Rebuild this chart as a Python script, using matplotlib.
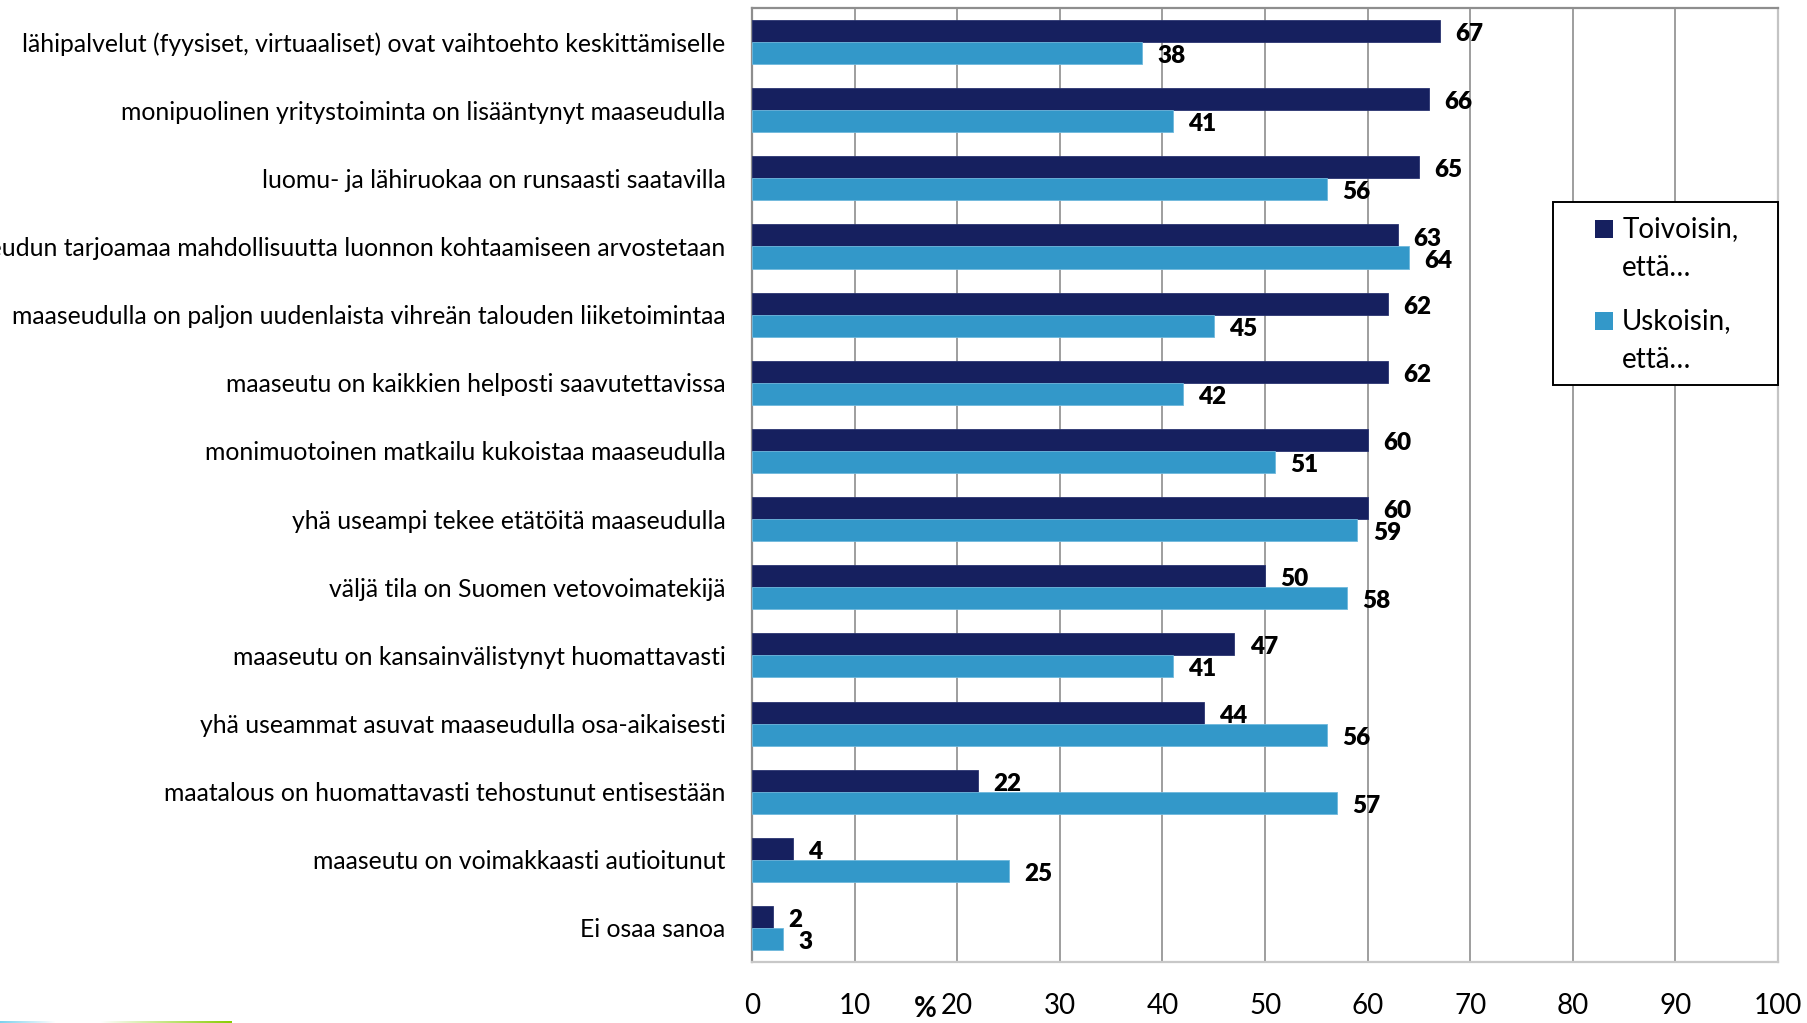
import numpy as np
import matplotlib
matplotlib.use("Agg")
import matplotlib.pyplot as plt
from matplotlib.patches import Rectangle

# Survey statements (top to bottom) and the share of respondents (%)
statements = [
    "lähipalvelut (fyysiset, virtuaaliset) ovat vaihtoehto keskittämiselle",
    "monipuolinen yritystoiminta on lisääntynyt maaseudulla",
    "luomu- ja lähiruokaa on runsaasti saatavilla",
    "maaseudun tarjoamaa mahdollisuutta luonnon kohtaamiseen arvostetaan",
    "maaseudulla on paljon uudenlaista vihreän talouden liiketoimintaa",
    "maaseutu on kaikkien helposti saavutettavissa",
    "monimuotoinen matkailu kukoistaa maaseudulla",
    "yhä useampi tekee etätöitä maaseudulla",
    "väljä tila on Suomen vetovoimatekijä",
    "maaseutu on kansainvälistynyt huomattavasti",
    "yhä useammat asuvat maaseudulla osa-aikaisesti",
    "maatalous on huomattavasti tehostunut entisestään",
    "maaseutu on voimakkaasti autioitunut",
    "Ei osaa sanoa",
]
toivoisin = [67, 66, 65, 63, 62, 62, 60, 60, 50, 47, 44, 22, 4, 2]
uskoisin = [38, 41, 56, 64, 45, 42, 51, 59, 58, 41, 56, 57, 25, 3]
series_labels = [["Toivoisin,", "että…"], ["Uskoisin,", "että…"]]
x_ticks = [0, 10, 20, 30, 40, 50, 60, 70, 80, 90, 100]

DARK = "#16205f"
LIGHT = "#3398c9"

plt.rcParams["font.family"] = ["Lato", "DejaVu Sans"]

fig = plt.figure(figsize=(18.07, 10.23), dpi=100)
ax = fig.add_axes([0.4162, 0.0596, 0.5678, 0.9326])

y = np.arange(len(statements))
h = 0.323
bars_t = ax.barh(y - h / 2, toivoisin, height=h, color=DARK, edgecolor="#2a3470",
                 linewidth=0.6, zorder=3)
bars_u = ax.barh(y + h / 2, uskoisin, height=h, color=LIGHT, edgecolor="#6fb8dd",
                 linewidth=0.6, zorder=3)

for bars, vals in ((bars_t, toivoisin), (bars_u, uskoisin)):
    for b, v in zip(bars, vals):
        ax.annotate(f"{v}", xy=(v, b.get_y() + b.get_height() / 2),
                    xytext=(11, -2.2), textcoords="offset points",
                    ha="left", va="center", fontsize=17.5, fontweight="heavy",
                    color="black", zorder=5)

ax.set_xlim(0, 100)
ax.set_ylim(len(statements) - 0.5, -0.5)
ax.set_xticks(x_ticks)
ax.set_xticklabels([str(t) for t in x_ticks], fontsize=20)
ax.set_yticks(y)
ax.set_yticklabels(statements, fontsize=17.8)
ax.tick_params(axis="both", length=0)
ax.tick_params(axis="x", pad=22)
ax.tick_params(axis="y", pad=19)

ax.xaxis.grid(True, color="#8e8e8e", linewidth=1.2, zorder=0)
ax.set_axisbelow(True)
for side, col in (("left", "#8e8e8e"), ("top", "#8e8e8e"),
                  ("right", "#c4c4c4"), ("bottom", "#c8c8c8")):
    ax.spines[side].set_color(col)
    ax.spines[side].set_linewidth(1.6)

# axis unit marker
ax.text(0.169, -0.0625, "%", transform=ax.transAxes, fontsize=20,
        fontweight="bold", ha="center", va="bottom")

# legend: framed box with square swatches and two-line labels
ax.add_patch(Rectangle((0.781, 0.605), 0.219, 0.192, transform=ax.transAxes,
                       facecolor="white", edgecolor="black", linewidth=1.4,
                       clip_on=False, zorder=6))
swatch_w, swatch_h = 0.01754, 0.01887
for color, lines, y_first in ((DARK, series_labels[0], 0.7680),
                              (LIGHT, series_labels[1], 0.6716)):
    ax.add_patch(Rectangle((0.8216, y_first - swatch_h / 2), swatch_w, swatch_h,
                           transform=ax.transAxes, facecolor=color,
                           edgecolor="none", clip_on=False, zorder=7))
    for k, line in enumerate(lines):
        ax.text(0.848, y_first - k * 0.0409, line, transform=ax.transAxes,
                fontsize=20, ha="left", va="center", zorder=8)

# thin decorative gradient strip at the bottom edge
strip = fig.add_axes([0, 0, 232 / 1807, 2 / 1023])
strip.set_axis_off()
n = 232
rgba = np.ones((1, n, 4))
cyan = np.array([0.49, 0.82, 0.93])
green = np.array([0.53, 0.80, 0.0])
for i in range(n):
    if i < 55:
        rgba[0, i, :3] = cyan
        rgba[0, i, 3] = 1 - i / 55
    elif i >= 100:
        rgba[0, i, :3] = green
        rgba[0, i, 3] = (i - 100) / 132
    else:
        rgba[0, i, 3] = 0
strip.imshow(rgba, aspect="auto", extent=(0, 1, 0, 1))

fig.savefig("out.png", dpi=100)
